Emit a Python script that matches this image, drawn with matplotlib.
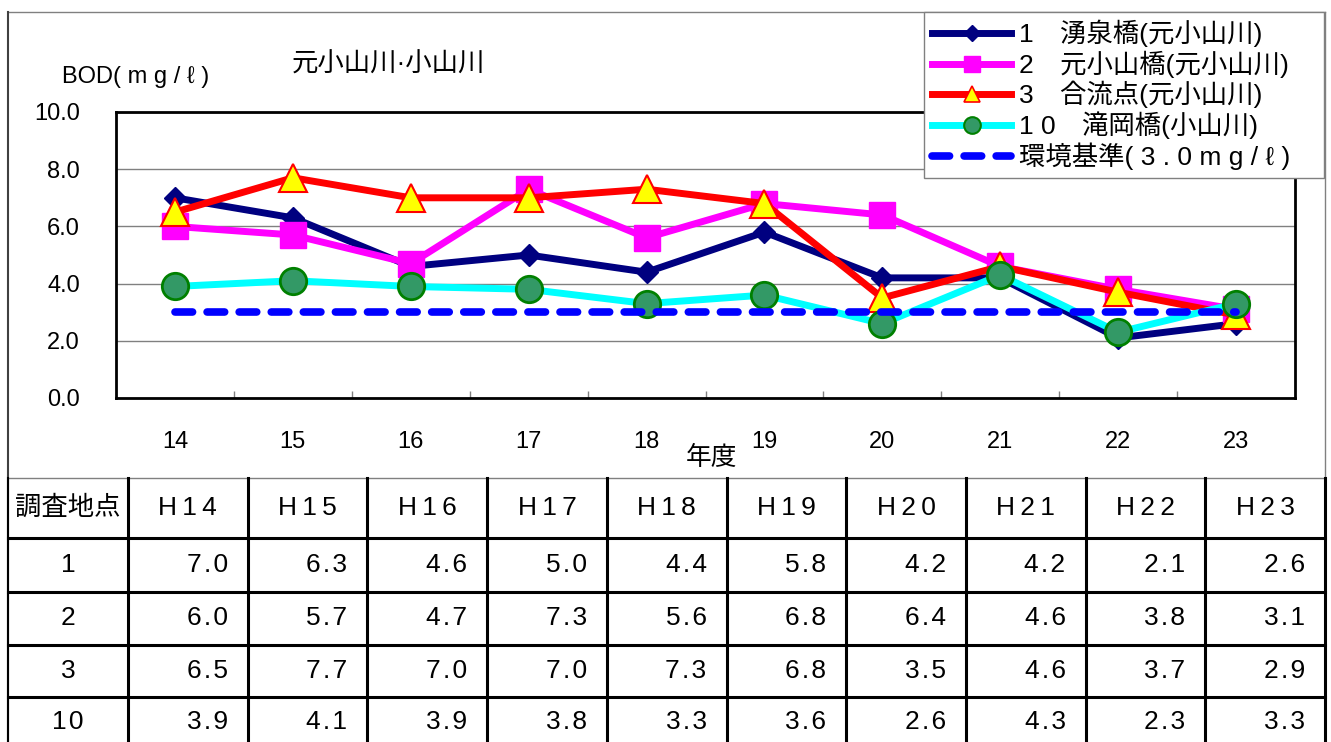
import matplotlib
matplotlib.use('Agg')
import matplotlib.pyplot as plt
from matplotlib.lines import Line2D

# フォント：英数字はLiberation Sans、日本語はNoto Sans CJK JP
plt.rcParams['font.family'] = ['Liberation Sans', 'Noto Sans CJK JP', 'DejaVu Sans']

# データ（BOD 年度別）
years = ['14', '15', '16', '17', '18', '19', '20', '21', '22', '23']
col_labels = ['H14', 'H15', 'H16', 'H17', 'H18', 'H19', 'H20', 'H21', 'H22', 'H23']
site_labels = ['1', '2', '3', '10']
legend_names = ['1　湧泉橋(元小山川)', '2　元小山橋(元小山川)',
                '3　合流点(元小山川)', '1 0　滝岡橋(小山川)']
site1 = [7.0, 6.3, 4.6, 5.0, 4.4, 5.8, 4.2, 4.2, 2.1, 2.6]
site2 = [6.0, 5.7, 4.7, 7.3, 5.6, 6.8, 6.4, 4.6, 3.8, 3.1]
site3 = [6.5, 7.7, 7.0, 7.0, 7.3, 6.8, 3.5, 4.6, 3.7, 2.9]
site10 = [3.9, 4.1, 3.9, 3.8, 3.3, 3.6, 2.6, 4.3, 2.3, 3.3]
standard = 3.0
standard_label = '環境基準( 3 . 0 m g / ℓ )'

W, H = 1331, 742
fig = plt.figure(figsize=(W / 100, H / 100), dpi=100)

# 背景用（枠・表・文字）
ov = fig.add_axes([0, 0, 1, 1])
ov.set_xlim(0, W)
ov.set_ylim(H, 0)
ov.axis('off')

# グラフ枠
frame = dict(color='#808080', lw=1)
ov.plot([8, 1325], [12, 12], **frame)
ov.plot([1325, 1325], [12, 478], **frame)
ov.plot([8, 1325], [478, 478], **frame)
ov.plot([8, 8], [12, H], color='#404040', lw=1.5)

# グラフ本体
x = list(range(len(years)))
ax = fig.add_axes([116 / W, 1 - 398 / H, (1295 - 116) / W, (398 - 112) / H])
ax.set_xlim(-0.5, len(years) - 0.5)
ax.set_ylim(0, 10)
ax.set_yticks([0, 2, 4, 6, 8, 10])
ax.set_yticklabels(['%.1f' % v for v in [0, 2, 4, 6, 8, 10]])
ax.set_xticks(x)
ax.set_xticklabels(years)
ax.set_xticks([i + 0.5 for i in x[:-1]], minor=True)
ax.tick_params(axis='y', length=0, pad=26, labelsize=17)
ax.tick_params(axis='x', which='major', length=0, pad=24, labelsize=17)
ax.tick_params(axis='x', which='minor', direction='in', length=5, color='#808080', width=1)
ax.yaxis.grid(True, color='#808080', lw=1)
ax.set_axisbelow(True)
for s in ax.spines.values():
    s.set_linewidth(2)
    s.set_color('black')

lw = 5
ax.plot(x, site1, color='#000080', lw=lw, marker='D', ms=11.5, mfc='#000080', mec='#000080', zorder=3)
ax.plot(x, site2, color='#FF00FF', lw=lw, marker='s', ms=19, mfc='#FF00FF', mec='#FF00FF', zorder=4)
ax.plot(x, site3, color='#FF0000', lw=lw, marker='^', ms=19.5, mfc='#FFFF00', mec='#FF0000', mew=1.5, zorder=5)
ax.plot(x, site10, color='#00FFFF', lw=lw, marker='o', ms=19, mfc='#339966', mec='#008000', mew=2, zorder=6)
ax.plot([x[0], x[-1]], [standard, standard], color='#0000FF', lw=5.5,
        dashes=(2.3, 1.9), dash_capstyle='round', zorder=7)

# 凡例
handles = [
    Line2D([], [], color='#000080', lw=lw, marker='D', ms=8.5, mfc='#000080', mec='#000080'),
    Line2D([], [], color='#FF00FF', lw=lw, marker='s', ms=12, mfc='#FF00FF', mec='#FF00FF'),
    Line2D([], [], color='#FF0000', lw=lw, marker='^', ms=12, mfc='#FFFF00', mec='#FF0000', mew=1.2),
    Line2D([], [], color='#00FFFF', lw=lw, marker='o', ms=12, mfc='#339966', mec='#008000', mew=1.5),
    Line2D([], [], color='#0000FF', lw=5.5, dashes=(2.3, 1.9), dash_capstyle='round'),
]
leg = fig.legend(handles, legend_names + [standard_label], loc='upper left',
                 bbox_to_anchor=(924 / W, 1 - 178 / H, 400 / W, 166 / H), mode='expand',
                 frameon=True, fancybox=False,
                 edgecolor='#808080', framealpha=1, borderaxespad=0, borderpad=0.3,
                 handlelength=3.0, handletextpad=0.3, labelspacing=0.12, fontsize=19)
leg.get_frame().set_linewidth(1)

# 文字
ov.text(292, 64, '元小山川·小山川', fontsize=19, va='center', ha='left')
ov.text(62, 77, 'BOD( m g / ℓ )', fontsize=17, va='center', ha='left')
ov.text(712, 458, '年度', fontsize=18.5, va='center', ha='center')

# 表
left_col = 128
right_edge = 1325
cw = (right_edge - left_col) / len(col_labels)
row_lines = [538, 592, 645, 697]
row_centers = [565, 618, 671, 722]
for yy in row_lines:
    ov.plot([8, right_edge], [yy, yy], color='black', lw=2.2)
for k in range(len(col_labels) + 1):
    xx = left_col + cw * k
    ov.plot([xx, xx], [478, H], color='black', lw=2.2)
ov.plot([8, 8], [478, H], color='black', lw=1.5)

ov.text(68, 508, '調査地点', fontsize=19, ha='center', va='center')
for k, lab in enumerate(col_labels):
    ov.text(left_col + cw * (k + 0.5), 508, '\u2009'.join(lab), fontsize=19,
            ha='center', va='center')

for r, (lab, vals) in enumerate(zip(site_labels, [site1, site2, site3, site10])):
    yy = row_centers[r]
    ov.text(68, yy, '\u200a'.join(lab), fontsize=19, ha='center', va='center')
    for k, v in enumerate(vals):
        ov.text(left_col + cw * (k + 1) - 20, yy, '\u200a'.join('%.1f' % v),
                fontsize=19, ha='right', va='center')

fig.savefig('out.png', dpi=100)
